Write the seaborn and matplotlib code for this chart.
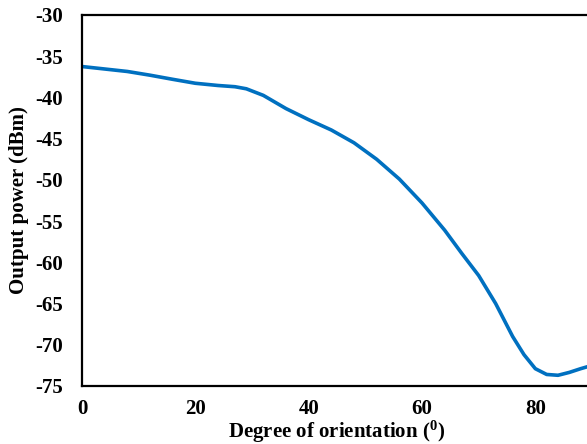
import matplotlib
matplotlib.use("Agg")
import matplotlib.pyplot as plt
import seaborn as sns
import pandas as pd

angle = [0, 4, 8, 12, 16, 20, 24, 27, 29, 32, 36, 40, 44, 48, 52, 56, 60,
         64, 67, 70, 73, 76, 78, 80, 82, 84, 86, 88, 90]
power = [-36.25, -36.55, -36.85, -37.3, -37.8, -38.28, -38.55, -38.7, -38.95,
         -39.75, -41.35, -42.7, -43.95, -45.5, -47.5, -49.9, -52.8,
         -56.1, -58.9, -61.6, -65.0, -69.0, -71.2, -72.9, -73.6, -73.7,
         -73.35, -72.9, -72.5]
xticks = [0, 20, 40, 60, 80]
yticks = [-30, -35, -40, -45, -50, -55, -60, -65, -70, -75]

sns.set_theme(style="white")
plt.rcParams["font.family"] = ["Liberation Serif", "DejaVu Serif"]
plt.rcParams["font.weight"] = "bold"
plt.rcParams["mathtext.fontset"] = "custom"
plt.rcParams["mathtext.rm"] = "Liberation Serif:bold"
plt.rcParams["mathtext.it"] = "Liberation Serif:bold"
plt.rcParams["mathtext.bf"] = "Liberation Serif:bold"

df = pd.DataFrame({"angle": angle, "power": power})

fig = plt.figure(figsize=(5.87, 4.44), dpi=100)
ax = fig.add_axes([82 / 587, 1 - 386 / 444, (592 - 82) / 587, (386 - 15) / 444])
sns.lineplot(data=df, x="angle", y="power", ax=ax, color="#0070C0",
             linewidth=2.6, solid_joinstyle="round", solid_capstyle="round")

ax.set_xlim(0, 90)
ax.set_ylim(-75, -30)
ax.set_xticks(xticks)
ax.set_yticks(yticks)
ax.set_xticklabels([str(t) for t in xticks], fontsize=15, fontweight="bold")
ax.set_yticklabels([str(t) for t in yticks], fontsize=15, fontweight="bold")
ax.tick_params(axis="both", length=0, colors="black")
ax.tick_params(axis="y", pad=14)
ax.tick_params(axis="x", pad=9)
for s in ax.spines.values():
    s.set_color("black")
    s.set_linewidth(1.6)
ax.set_xlabel(r"Degree of orientation ($^{0}$)", fontsize=15, fontweight="bold",
              labelpad=0.5, color="black")
ax.set_ylabel("Output power (dBm)", fontsize=15, fontweight="bold", labelpad=4,
              color="black")
ax.grid(False)

fig.savefig("out.png", dpi=100)
